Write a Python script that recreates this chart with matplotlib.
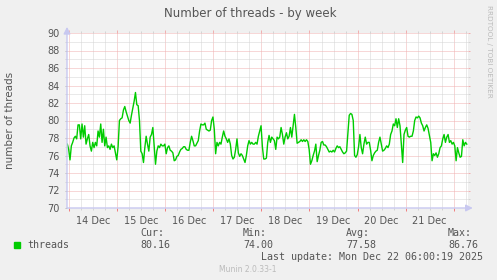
import matplotlib
matplotlib.use("Agg")
import matplotlib.pyplot as plt
import numpy as np
import pandas as pd

# ---------------- data ----------------
series_name = "threads"
series_start = "2025-12-13 23:10"
series_step = "40min"
threads = [
    # 13/14 Dec
    77.3, 76.7, 75.5, 77.1, 77.5, 78.0, 78.2, 77.9, 79.5, 79.5, 77.9, 79.6, 78.1, 79.4, 77.3, 77.9,
    78.4, 77.1, 76.5, 77.5, 76.9, 77.5, 77.1, 78.8, 78.1, 79.6, 77.5, 79.0, 77.1, 78.1, 76.9, 77.1,
    76.7, 77.3, 76.9, 77.1, 76.3, 75.5, 77.0, 80.0, 80.2, 80.3, 81.2, 81.6, 81.0, 80.5, 80.0, 79.7,
    80.6, 81.4, 82.2, 83.2, 81.8, 81.7, 80.0, 76.5, 76.2, 75.2, 76.9, 78.2, 77.3, 76.5, 78.1, 78.4,
    79.2, 77.1, 75.0, 76.5, 77.1, 76.9, 77.3, 77.1, 77.1, 77.3, 76.2, 76.9, 77.1,
    # 16/17 Dec
    76.6, 76.5, 76.3, 75.4, 75.5, 75.9, 76.0, 76.4, 76.7, 76.8, 77.0, 77.0, 76.7, 76.6, 76.6, 77.5,
    78.2, 77.7, 77.1, 77.1, 77.4, 77.7, 78.8, 79.6, 79.5, 79.5, 79.7, 79.0, 78.9, 78.8, 78.9, 80.0,
    80.4, 79.0, 76.2, 77.5, 77.1, 77.5, 77.3, 78.1, 78.8, 78.2, 77.9, 77.5, 77.9, 77.3, 76.0, 75.6,
    75.8, 76.7, 77.9, 76.3, 75.9, 76.2, 76.0, 75.6, 75.2, 76.0, 77.1, 77.7, 77.3, 77.5, 77.3, 77.3,
    77.5, 77.3, 78.2, 78.8, 79.4, 77.0, 75.6, 75.6, 75.7, 77.5, 78.3,
    # 18/19 Dec
    77.5, 78.1, 77.9, 77.7, 76.7, 78.1, 77.9, 78.1, 79.2, 78.4, 77.3, 78.1, 78.6, 77.9, 78.2, 79.2,
    78.1, 79.4, 80.7, 79.2, 77.4, 77.5, 77.6, 77.8, 77.6, 77.8, 77.6, 77.8, 77.6, 76.7, 75.0, 75.4,
    76.0, 76.5, 77.3, 75.3, 76.0, 76.6, 77.5, 77.6, 77.2, 77.2, 77.0, 76.7, 76.4, 76.5, 76.4, 76.6,
    76.4, 76.8, 77.1, 76.9, 77.0, 76.7, 76.4, 76.2, 76.3, 76.5, 78.5, 80.6, 80.8, 80.7, 80.0, 76.0,
    75.8, 76.1, 77.0, 78.4, 76.9, 76.2, 77.3, 78.1, 77.3, 77.5, 77.5,
    # 20/21 Dec
    76.6, 75.4, 76.0, 76.3, 76.5, 76.6, 77.5, 78.1, 77.3, 76.5, 76.6, 76.8, 77.1, 76.9, 77.3, 78.4,
    78.8, 79.6, 79.4, 80.2, 79.2, 80.2, 79.4, 77.3, 75.2, 78.4, 78.9, 79.2, 78.2, 78.1, 78.2, 78.2,
    78.8, 80.0, 80.4, 80.3, 80.5, 80.3, 79.7, 79.4, 78.8, 79.2, 79.5, 79.1, 78.3, 77.5, 75.4, 76.2,
    76.0, 76.3, 75.8, 76.2, 76.9, 77.1, 77.9, 78.4, 77.5, 78.1, 78.4, 77.5, 77.7, 77.3, 77.5, 77.1,
    75.4, 76.9, 76.3, 75.8, 75.9, 77.8, 77.1, 77.5, 77.3,
]
x_start = "2025-12-13 23:00"
x_end = "2025-12-22 07:06"
day_labels = ["14 Dec", "15 Dec", "16 Dec", "17 Dec", "18 Dec", "19 Dec", "20 Dec", "21 Dec"]
y_ticks = [70, 72, 74, 76, 78, 80, 82, 84, 86, 88, 90]
stat_names = ["Cur:", "Min:", "Avg:", "Max:"]
stat_values = ["80.16", "74.00", "77.58", "86.76"]
title = "Number of threads - by week"
y_label = "number of threads"
last_update = "Last update: Mon Dec 22 06:00:19 2025"
side_text = "RRDTOOL / TOBI OETIKER"
footer = "Munin 2.0.33-1"

# ---------------- figure ----------------
W, H = 497, 280
fig = plt.figure(figsize=(W / 100, H / 100), dpi=100, facecolor="#F0F0F0")
ax = fig.add_axes([67 / W, 1 - 208 / H, (468 - 67) / W, (208 - 33) / H])
ax.set_facecolor("white")

times = pd.date_range(series_start, periods=len(threads), freq=series_step)
ax.plot(times, threads, color="#00CC00", lw=1.0, zorder=5)

x0, x1 = pd.Timestamp(x_start), pd.Timestamp(x_end)
ax.set_xlim(x0, x1)
ymin, ymax = y_ticks[0], y_ticks[-1]
ax.set_ylim(ymin, ymax)

red = "#F0B0B0"
grey = "#D4D4D4"
px_y = (ymax - ymin) / 175.0          # data units per pixel (y)
px_x = (x1 - x0) / 401.0              # timedelta per pixel (x)

# grid lines (fine dotted)
minor_x = list(pd.date_range("2025-12-14 00:00", x1, freq="6h"))
major_x = list(pd.date_range("2025-12-14 00:00", x1, freq="1D"))
grid_kw = dict(lw=0.72, linestyles=[(0, (1.0, 1.0))], zorder=1, snap=True)
only_minor_x = [t for t in minor_x if t not in major_x]
ax.vlines(only_minor_x, ymin, ymax, colors=grey, **grid_kw)
ax.vlines(major_x, ymin, ymax, colors=red, **grid_kw)
minor_y = [v for v in range(ymin, ymax + 1) if v not in y_ticks]
ax.hlines(minor_y, x0, x1, colors=grey, **grid_kw)
ax.hlines(y_ticks[1:], x0, x1, colors=red, **grid_kw)

# short solid tick marks at the ends of grid lines
tk = dict(lw=0.72, clip_on=False, zorder=2, solid_capstyle="butt", snap=True)
for t in only_minor_x:
    ax.plot([t, t], [ymin - 2 * px_y, ymin], color=grey, **tk)
    ax.plot([t, t], [ymax, ymax + 2 * px_y], color=grey, **tk)
for t in major_x:
    ax.plot([t, t], [ymin - 3 * px_y, ymin], color="#F08080", **tk)
    ax.plot([t, t], [ymax, ymax + 3 * px_y], color=red, **tk)
for v in range(ymin, ymax + 1):
    c = red if v in y_ticks else grey
    ax.plot([x0 - 2 * px_x, x0], [v, v], color="#BBBBBB" if v in y_ticks else grey, **tk)
    ax.plot([x1, x1 + 2 * px_x], [v, v], color=c, **tk)

for s in ax.spines.values():
    s.set_visible(False)

# axes with arrows
axis_col = "#C8C8F0"
ax.annotate("", xy=(0, 1.035), xytext=(0, 0), xycoords="axes fraction",
            arrowprops=dict(arrowstyle="-|>,head_length=0.4,head_width=0.2",
                            color=axis_col, lw=1.0, shrinkA=0, shrinkB=0),
            annotation_clip=False, zorder=6)
ax.annotate("", xy=(1.012, 0), xytext=(0, 0), xycoords="axes fraction",
            arrowprops=dict(arrowstyle="-|>,head_length=0.4,head_width=0.2",
                            color=axis_col, lw=1.0, shrinkA=0, shrinkB=0),
            annotation_clip=False, zorder=6)

txt_col = "#555555"
noon = pd.date_range("2025-12-14 12:00", periods=len(day_labels), freq="1D")
ax.set_xticks(noon)
ax.set_xticklabels(day_labels)
ax.set_yticks(y_ticks)
ax.set_yticklabels([str(v) for v in y_ticks])
ax.tick_params(axis="x", length=0, pad=6, labelsize=7, labelcolor=txt_col)
ax.tick_params(axis="y", length=0, pad=5, labelsize=7, labelcolor=txt_col)

fig.text(250 / W, 1 - 14 / H, title, ha="center", va="center", fontsize=8.5,
         color=txt_col)
fig.text(10 / W, 1 - 120 / H, y_label, ha="center", va="center", rotation=90,
         fontsize=7.5, color=txt_col)
fig.text(489 / W, 1 - 5 / H, side_text, ha="center", va="top", rotation=270,
         fontsize=5.2, color="#BBBBBB")

mono = "DejaVu Sans Mono"
fig.patches.append(plt.Rectangle((14 / W, 1 - 248 / H), 6 / W, 6 / H,
                                 transform=fig.transFigure, color="#00CC00"))
fig.text(27 / W, 1 - 245 / H, series_name, ha="left", va="center",
         fontsize=7.2, family=mono, color=txt_col)
stat_x = [140, 243, 346, 448]
for sx, nm, val in zip(stat_x, stat_names, stat_values):
    fig.text(sx / W, 1 - 233 / H, nm, ha="left", va="center", fontsize=7.2,
             family=mono, color=txt_col)
    fig.text(sx / W, 1 - 245 / H, val, ha="left", va="center", fontsize=7.2,
             family=mono, color=txt_col)
fig.text(483 / W, 1 - 257 / H, last_update, ha="right", va="center",
         fontsize=7.2, family=mono, color=txt_col)
fig.text(248 / W, 1 - 270 / H, footer, ha="center", va="center", fontsize=5.5,
         color="#BBBBBB")

fig.savefig("out.png", dpi=100, facecolor=fig.get_facecolor())
